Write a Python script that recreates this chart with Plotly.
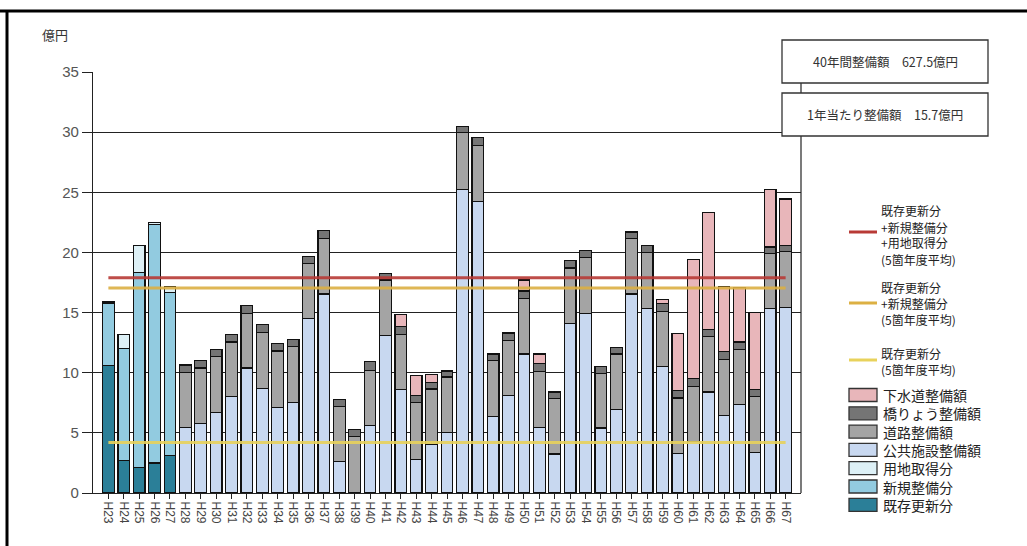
import plotly.graph_objects as go

W, H = 1027, 546

# ---------------- data ----------------
years_early = ["H23", "H24", "H25", "H26", "H27"]
years_late = ["H28", "H29", "H30", "H31", "H32", "H33", "H34", "H35", "H36", "H37",
              "H38", "H39", "H40", "H41", "H42", "H43", "H44", "H45", "H46", "H47",
              "H48", "H49", "H50", "H51", "H52", "H53", "H54", "H55", "H56", "H57",
              "H58", "H59", "H60", "H61", "H62", "H63", "H64", "H65", "H66", "H67"]
years_all = years_early + years_late

kizon = [10.6, 2.7, 2.15, 2.5, 3.1]        # 既存更新分
shinki = [5.2, 9.3, 16.2, 19.8, 13.6]      # 新規整備分
youchi = [0.1, 1.16, 2.25, 0.17, 0.5]      # 用地取得分

koukyou = [5.45, 5.8, 6.7, 8.0, 10.4, 8.7, 7.1, 7.55, 14.5, 16.55,
           2.6, None, 5.6, 13.1, 8.6, 2.8, 4.0, 5.0, 25.2, 24.25,
           6.35, 8.1, 11.55, 5.45, 3.25, 14.1, 14.95, 5.4, 6.95, 16.55,
           15.35, 10.5, 3.3, 4.25, 8.4, 6.45, 7.35, 3.4, 15.35, 15.45]   # 公共施設整備額
douro = [4.6, 4.6, 4.65, 4.55, 4.55, 4.65, 4.7, 4.6, 4.55, 4.6,
         4.6, 4.7, 4.6, 4.6, 4.6, 4.7, 4.65, 4.65, 4.75, 4.65,
         4.65, 4.6, 4.6, 4.65, 4.6, 4.6, 4.6, 4.55, 4.6, 4.6,
         4.65, 4.6, 4.6, 4.6, 4.6, 4.65, 4.6, 4.6, 4.55, 4.6]          # 道路整備額
kyouryou = [0.6, 0.6, 0.6, 0.6, 0.65, 0.65, 0.6, 0.6, 0.6, 0.65,
            0.55, 0.55, 0.7, 0.55, 0.65, 0.6, 0.55, 0.5, 0.55, 0.65,
            0.55, 0.6, 0.65, 0.65, 0.55, 0.65, 0.6, 0.55, 0.55, 0.55,
            0.6, 0.65, 0.65, 0.65, 0.6, 0.65, 0.6, 0.6, 0.55, 0.55]    # 橋りょう整備額
gesuido = [None, None, None, None, None, None, None, None, None, None,
           None, None, None, None, 1.0, 1.65, 0.65, None, None, None,
           None, None, 0.9, 0.8, None, None, None, None, None, None,
           None, 0.35, 4.7, 9.9, 9.7, 5.45, 4.55, 6.4, 4.75, 3.85]     # 下水道整備額

avg_all = 17.9      # 既存更新分+新規整備分+用地取得分 (5箇年度平均)
avg_new = 17.05     # 既存更新分+新規整備分 (5箇年度平均)
avg_kizon = 4.2     # 既存更新分 (5箇年度平均)

total_label = "40年間整備額　627.5億円"
annual_label = "1年当たり整備額　15.7億円"

# ---------------- styles ----------------
C_KIZON = "#2b7f98"
C_SHINKI = "#92cbe0"
C_YOUCHI = "#ddf0f6"
C_KOUKYOU = "#c8d8f0"
C_DOURO = "#a4a4a4"
C_KYOU = "#757575"
C_GESUI = "#e8b6ba"
C_RED = "#b83a36"
C_ORANGE = "#dcb043"
C_YELLOW = "#e8d25c"

JP = "Noto Sans CJK JP"
LAT = "Liberation Sans"

fig = go.Figure()
bar_line = dict(color="#111111", width=1.2)
for name, xs, ys, col in [
    ("既存更新分", years_early, kizon, C_KIZON),
    ("新規整備分", years_early, shinki, C_SHINKI),
    ("用地取得分", years_early, youchi, C_YOUCHI),
    ("公共施設整備額", years_late, koukyou, C_KOUKYOU),
    ("道路整備額", years_late, douro, C_DOURO),
    ("橋りょう整備額", years_late, kyouryou, C_KYOU),
    ("下水道整備額", years_late, gesuido, C_GESUI),
]:
    fig.add_trace(go.Bar(x=xs, y=ys, name=name, marker=dict(color=col, line=bar_line),
                         showlegend=False))

for name, val, col in [
    ("既存更新分(5箇年度平均)", avg_kizon, C_YELLOW),
    ("既存更新分+新規整備分(5箇年度平均)", avg_new, C_ORANGE),
    ("既存更新分+新規整備分+用地取得分(5箇年度平均)", avg_all, C_RED),
]:
    fig.add_trace(go.Scatter(x=[years_all[0], years_all[-1]], y=[val, val], mode="lines",
                             line=dict(color=col, width=3), opacity=0.9, name=name,
                             showlegend=False))


def px(x):
    return x / W


def py(y):
    return 1 - y / H


shapes = []
annotations = []

# outer frame (top and left edges)
shapes.append(dict(type="line", xref="paper", yref="paper", x0=px(0), x1=px(W), y0=py(11), y1=py(11),
                   line=dict(color="black", width=3)))
shapes.append(dict(type="line", xref="paper", yref="paper", x0=px(7), x1=px(7), y0=py(10), y1=py(H),
                   line=dict(color="black", width=3)))
# right frame of the plot area
shapes.append(dict(type="line", xref="paper", yref="paper", x0=px(801), x1=px(801), y0=py(60), y1=py(493),
                   line=dict(color="#222222", width=1.2)))
# info boxes
for (y0, y1, txt) in [(40, 83, total_label), (93, 136, annual_label)]:
    shapes.append(dict(type="rect", xref="paper", yref="paper", x0=px(782), x1=px(988), y0=py(y1), y1=py(y0),
                       fillcolor="white", line=dict(color="#333333", width=1.3)))
    annotations.append(dict(x=px(885), y=py((y0 + y1) / 2), xref="paper", yref="paper", text=txt,
                            showarrow=False, xanchor="center", yanchor="middle",
                            font=dict(family=JP, size=12.5, color="#333333")))

# y unit label
annotations.append(dict(x=px(40), y=py(34), xref="paper", yref="paper", text="億円", showarrow=False,
                        xanchor="left", yanchor="middle", font=dict(family=JP, size=13, color="#333333")))

# legend: lines (one annotation per text line)
line_leg = [
    (232, [211, 227, 243, 259], C_RED, ["既存更新分", "+新規整備分", "+用地取得分", "(5箇年度平均)"]),
    (303, [287, 303, 319], C_ORANGE, ["既存更新分", "+新規整備分", "(5箇年度平均)"]),
    (360, [353, 369], C_YELLOW, ["既存更新分", "(5箇年度平均)"]),
]
for ly, tys, col, txts in line_leg:
    shapes.append(dict(type="line", xref="paper", yref="paper", x0=px(849), x1=px(877), y0=py(ly), y1=py(ly),
                       line=dict(color=col, width=3)))
    for ty, txt in zip(tys, txts):
        annotations.append(dict(x=px(879), y=py(ty), xref="paper", yref="paper", text=txt, showarrow=False,
                                xanchor="left", yanchor="middle", align="left",
                                font=dict(family=JP, size=12, color="#222222")))

# legend: bars
bar_leg = [
    ("下水道整備額", C_GESUI), ("橋りょう整備額", C_KYOU), ("道路整備額", C_DOURO),
    ("公共施設整備額", C_KOUKYOU), ("用地取得分", C_YOUCHI), ("新規整備分", C_SHINKI),
    ("既存更新分", C_KIZON),
]
for i, (txt, col) in enumerate(bar_leg):
    cy = 395 + 18.3 * i
    shapes.append(dict(type="rect", xref="paper", yref="paper", x0=px(849), x1=px(877),
                       y0=py(cy + 6.5), y1=py(cy - 6.5), fillcolor=col,
                       line=dict(color="#333333", width=1.3)))
    annotations.append(dict(x=px(881), y=py(cy), xref="paper", yref="paper", text=txt, showarrow=False,
                            xanchor="left", yanchor="middle", align="left",
                            font=dict(family=JP, size=14, color="#222222")))

fig.update_layout(
    width=W, height=H, autosize=False,
    margin=dict(l=0, r=0, t=0, b=0, pad=0),
    paper_bgcolor="white", plot_bgcolor="white",
    barmode="stack", bargap=0.24,
    showlegend=False,
    shapes=shapes, annotations=annotations,
    xaxis=dict(domain=[px(93), px(801)], type="category", categoryorder="array",
               categoryarray=years_all, range=[-1, 45], tickangle=90,
               ticks="outside", ticklen=5, tickcolor="#222222", showline=True,
               linecolor="#222222", linewidth=1.2, showgrid=False, automargin=False,
               tickfont=dict(family=LAT, size=12, color="#444444")),
    yaxis=dict(domain=[py(493), py(72)], range=[0, 35], dtick=5, tick0=0,
               ticks="outside", ticklen=10, tickcolor="#222222", showline=True,
               linecolor="#222222", linewidth=1.2, showgrid=True, gridcolor="#222222",
               gridwidth=1, zeroline=False, automargin=False,
               tickfont=dict(family=LAT, size=15, color="#555555")),
)

fig.write_html("out.html", config={"displayModeBar": False},
               post_script="document.body.style.margin='0';document.body.style.overflow='hidden';")
